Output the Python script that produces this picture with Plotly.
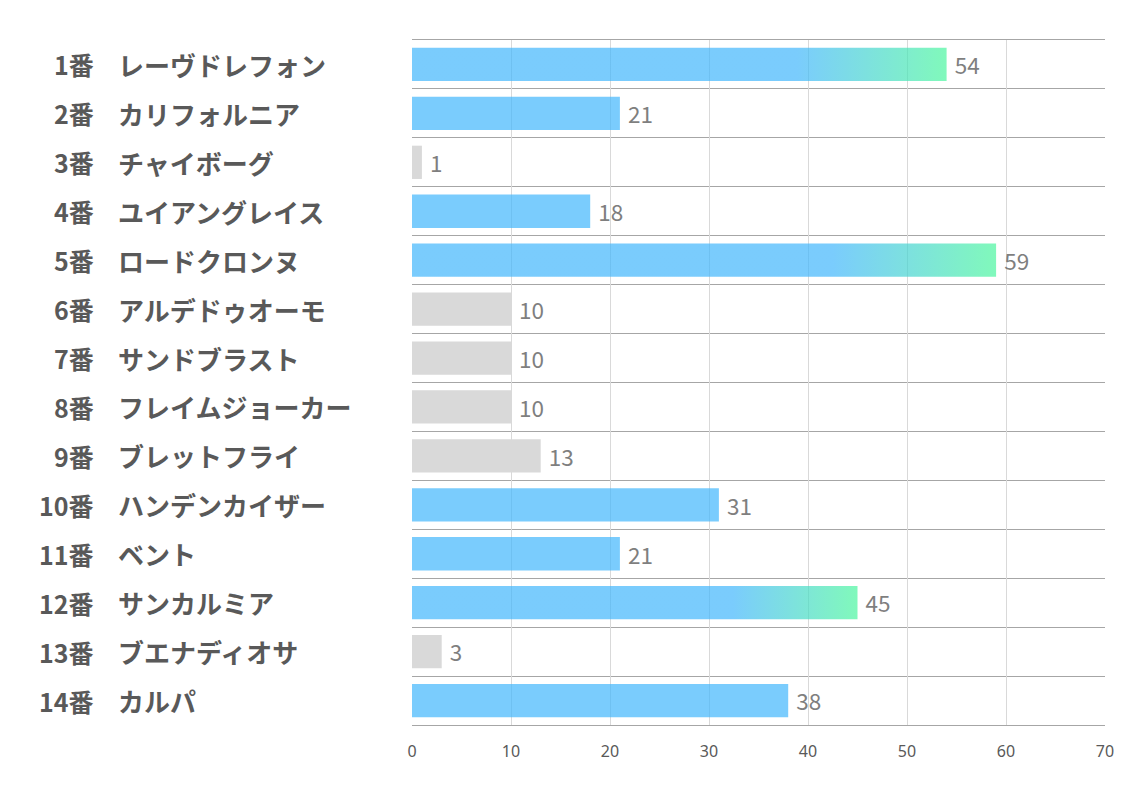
import plotly.graph_objects as go

numbers = ["1番", "2番", "3番", "4番", "5番", "6番", "7番", "8番", "9番", "10番", "11番", "12番", "13番", "14番"]
names = ["レーヴドレフォン", "カリフォルニア", "チャイボーグ", "ユイアングレイス", "ロードクロンヌ",
         "アルデドゥオーモ", "サンドブラスト", "フレイムジョーカー", "ブレットフライ", "ハンデンカイザー",
         "ベント", "サンカルミア", "ブエナディオサ", "カルパ"]
values = [54, 21, 1, 18, 59, 10, 10, 10, 13, 31, 21, 45, 3, 38]
# 'b' = blue, 'g' = gray, 'x' = blue with green gradient
kinds = ["x", "b", "g", "b", "x", "g", "g", "g", "g", "b", "b", "x", "g", "b"]
x_ticks = [0, 10, 20, 30, 40, 50, 60, 70]

BLUE = "rgba(65,182,252,0.7)"
GREEN = "rgba(74,246,158,0.7)"
GRAY = "#D9D9D9"
BAR_W = 0.68

ypos = list(range(len(values)))
colors = []
for k in kinds:
    if k == "b":
        colors.append(BLUE)
    elif k == "g":
        colors.append(GRAY)
    else:
        colors.append("rgba(0,0,0,0)")

fig = go.Figure()

# gradient bars drawn as filled shapes with a horizontal fill gradient
for i, (v, k) in enumerate(zip(values, kinds)):
    if k != "x":
        continue
    h = BAR_W / 2
    fig.add_trace(go.Scatter(
        x=[0, v, v, 0, 0],
        y=[i - h, i - h, i + h, i + h, i - h],
        mode="none",
        fill="toself",
        fillgradient=dict(type="horizontal",
                          colorscale=[[0, BLUE], [0.72, BLUE], [1, GREEN]]),
        hoverinfo="skip",
        showlegend=False,
    ))

fig.add_trace(go.Bar(
    x=values,
    y=ypos,
    orientation="h",
    width=BAR_W,
    marker=dict(color=colors, line=dict(width=0)),
    text=[" " + str(v) for v in values],
    textposition="outside",
    textfont=dict(family="Noto Sans CJK JP", size=23, color="#7F7F7F"),
    cliponaxis=False,
    showlegend=False,
))

num_font = dict(family="Noto Sans CJK JP", size=25, color="#595959", weight="bold")
name_font = dict(family="Noto Sans CJK JP", size=26, color="#595959", weight="bold")
annotations = []
for i, (n, nm) in enumerate(zip(numbers, names)):
    annotations.append(dict(
        x=-0.456, y=i, xref="paper", yref="y", text=n, showarrow=False,
        xanchor="right", yanchor="middle", font=num_font,
    ))
    annotations.append(dict(
        x=-0.4272, y=i, xref="paper", yref="y", text=nm, showarrow=False,
        xanchor="left", yanchor="middle", font=name_font,
    ))

fig.update_layout(
    width=1118, height=777,
    margin=dict(l=404, r=21, t=32, b=60),
    plot_bgcolor="white",
    paper_bgcolor="white",
    annotations=annotations,
)
fig.update_xaxes(
    range=[0, 70], tickvals=x_ticks,
    showgrid=True, gridcolor="#D9D9D9", gridwidth=1,
    zeroline=False,
    showline=True, mirror=True, linecolor="#A6A6A6", linewidth=1,
    ticks="", ticklabelstandoff=12,
    tickfont=dict(family="Liberation Sans Narrow, Noto Sans", size=16, color="#595959"),
)
fig.update_yaxes(
    range=[len(values) - 0.5, -0.5],
    showticklabels=False, showgrid=False, zeroline=False,
    minor=dict(tickvals=[i - 0.5 for i in range(len(values) + 1)],
               showgrid=True, gridcolor="#A6A6A6", gridwidth=1, ticks=""),
)

fig.write_html("out.html")
